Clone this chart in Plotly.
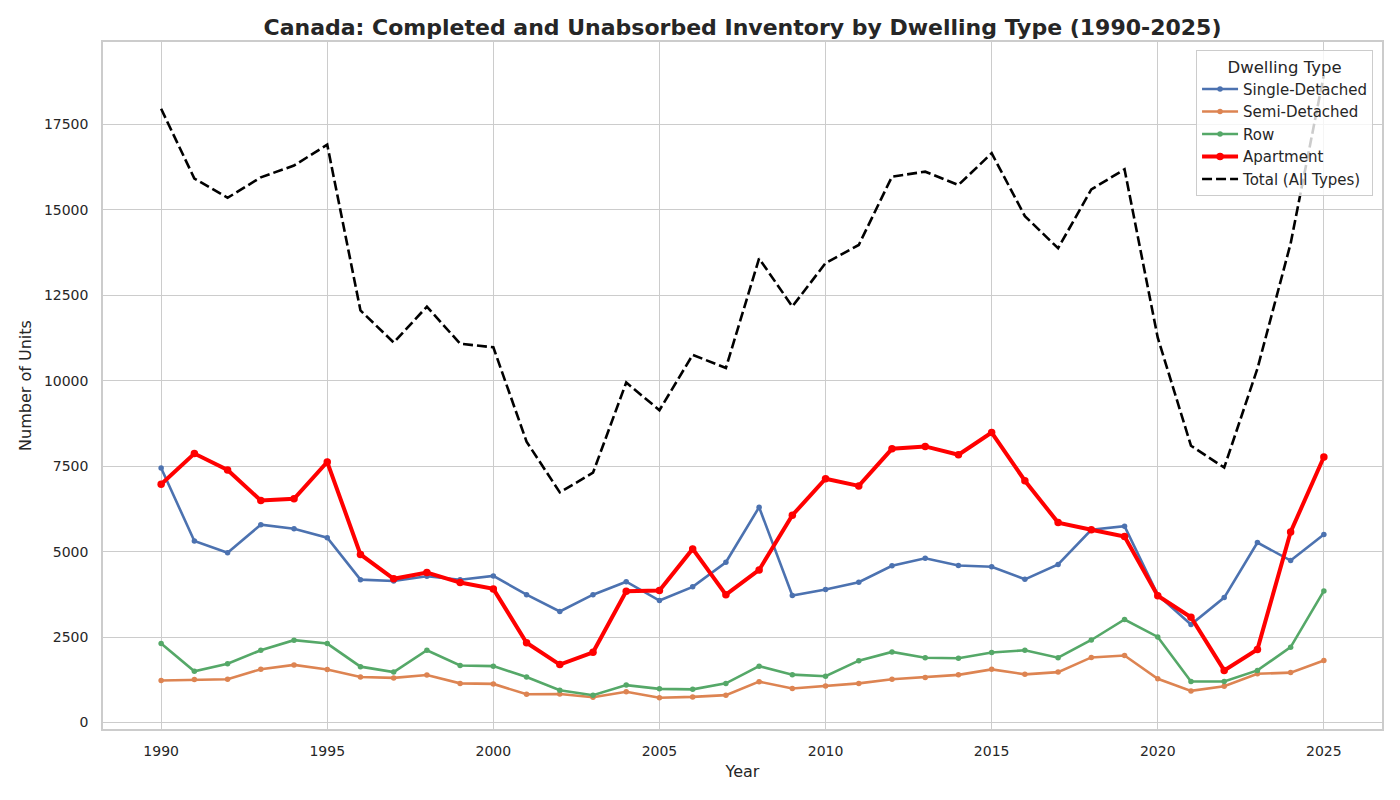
import plotly.graph_objects as go

years = list(range(1990, 2026))

single_detached = [7450, 5310, 4970, 5790, 5670, 5410, 4180, 4140, 4280, 4180,
                   4290, 3740, 3250, 3740, 4120, 3570, 3970, 4690, 6300, 3715,
                   3890, 4105, 4585, 4805, 4595, 4560, 4190, 4625, 5640, 5745,
                   3735, 2870, 3655, 5265, 4740, 5500]
semi_detached = [1230, 1255, 1265, 1560, 1685, 1550, 1330, 1305, 1390, 1145,
                 1130, 825, 835, 740, 900, 725, 750, 800, 1195, 995,
                 1070, 1145, 1265, 1320, 1395, 1555, 1410, 1475, 1905, 1960,
                 1280, 925, 1060, 1425, 1460, 1815]
row = [2310, 1500, 1720, 2115, 2410, 2310, 1635, 1475, 2115, 1670,
       1650, 1330, 945, 800, 1095, 985, 970, 1145, 1650, 1400,
       1355, 1810, 2065, 1895, 1880, 2050, 2115, 1895, 2415, 3015,
       2505, 1200, 1200, 1525, 2205, 3850]
apartment = [6975, 7870, 7390, 6495, 6545, 7625, 4920, 4205, 4390, 4095,
             3910, 2335, 1695, 2055, 3840, 3860, 5080, 3740, 4465, 6065,
             7135, 6925, 8010, 8080, 7835, 8485, 7075, 5850, 5640, 5445,
             3710, 3080, 1525, 2140, 5575, 7770]
total = [17960, 15920, 15355, 15955, 16300, 16910, 12060, 11120, 12170, 11085,
         10980, 8220, 6735, 7310, 9950, 9140, 10760, 10375, 13580, 12175,
         13445, 13975, 15975, 16120, 15730, 16660, 14820, 13880, 15600, 16190,
         11260, 8100, 7460, 10355, 14020, 18950]

text_col = "#262626"
grid_col = "#cccccc"

fig = go.Figure()

# the three smaller dwelling types, seaborn "deep" colours
for name, vals, col in [("Single-Detached", single_detached, "#4C72B0"),
                        ("Semi-Detached", semi_detached, "#DD8452"),
                        ("Row", row, "#55A868")]:
    fig.add_trace(go.Scatter(x=years, y=vals, name=name, mode="lines+markers",
                             line=dict(color=col, width=2.6),
                             marker=dict(color=col, size=5.5)))

fig.add_trace(go.Scatter(x=years, y=apartment, name="Apartment", mode="lines+markers",
                         line=dict(color="#FF0000", width=4),
                         marker=dict(color="#FF0000", size=7.5)))

fig.add_trace(go.Scatter(x=years, y=total, name="Total (All Types)", mode="lines",
                         line=dict(color="black", width=2.6, dash="10px,4px")))

# page body adds an 8px offset, margins compensate for it
fig.update_layout(
    width=1400, height=800,
    margin=dict(l=95, r=26, t=34, b=79),
    paper_bgcolor="white", plot_bgcolor="white",
    font=dict(family="DejaVu Sans", color=text_col, size=14),
    title=dict(text="<b>Canada: Completed and Unabsorbed Inventory by Dwelling Type (1990-2025)</b>",
               x=0.5, xref="paper", xanchor="center",
               y=1 - 19 / 800, yref="container", yanchor="middle",
               font=dict(size=22, color=text_col)),
    legend=dict(title=dict(text="Dwelling Type", side="top center", font=dict(size=16.5)),
                x=0.993, xanchor="right", y=0.988, yanchor="top",
                bgcolor="rgba(255,255,255,0.8)", bordercolor=grid_col, borderwidth=1,
                font=dict(size=15), tracegroupgap=0, itemwidth=36),
    showlegend=True,
)

fig.update_xaxes(title=dict(text="Year", font=dict(size=16), standoff=8),
                 range=[1988.25, 2026.75], tick0=1990, dtick=5,
                 showgrid=True, gridcolor=grid_col, gridwidth=1.2,
                 showline=True, mirror=True, linecolor=grid_col, linewidth=1.5,
                 zeroline=False, ticks="", tickfont=dict(size=14), ticklabelstandoff=8)
fig.update_yaxes(title=dict(text="Number of Units", font=dict(size=16), standoff=8),
                 range=[-190, 19915], tick0=0, dtick=2500, tickformat="d",
                 showgrid=True, gridcolor=grid_col, gridwidth=1.2,
                 showline=True, mirror=True, linecolor=grid_col, linewidth=1.5,
                 zeroline=False, ticks="", tickfont=dict(size=14), ticklabelstandoff=10)

fig.write_html("out.html")
